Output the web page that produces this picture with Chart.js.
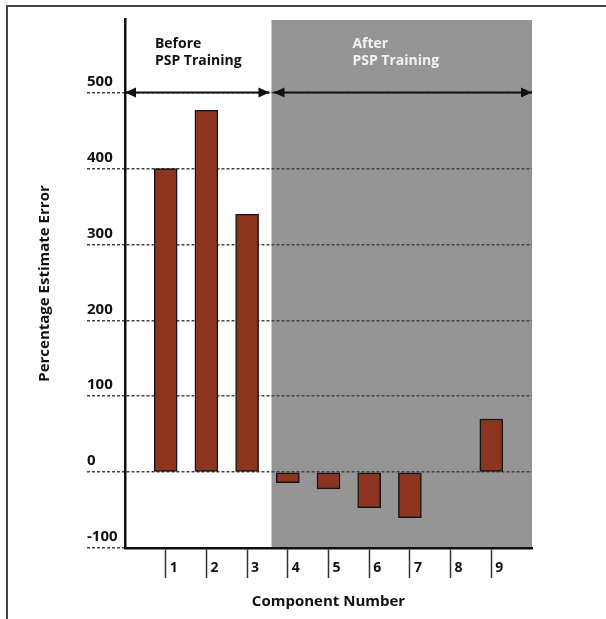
<!DOCTYPE html>
<html>
<head>
<meta charset="utf-8">
<script src="https://cdn.jsdelivr.net/npm/chart.js@4.4.1/dist/chart.umd.min.js"></script>
<style>
    html, body { margin: 0; padding: 0; background: #fff; }
    #wrap { position: relative; width: 606px; height: 619px; }
</style>
</head>
<body>
<div id="wrap"><canvas id="myChart"></canvas></div>
<script>
// datos
const componentes = [1, 2, 3, 4, 5, 6, 7, 8, 9];
const errorPorcentual = [400, 477, 340, -14, -22, -47, -60, 0, 70];
const ticksY = [-100, 0, 100, 200, 300, 400, 500];
const etiquetasFase = [["Before", "PSP Training"], ["After", "PSP Training"]];
const inicioFase = [0, 3.6];
const finFase = [3.6, 10];
const nivelFlecha = 500;

const fuente = "'Open Sans', 'DejaVu Sans', sans-serif";
const colorGris = "#959595";

function flecha(ctx, x, y, dir) {
    ctx.beginPath();
    ctx.moveTo(x, y);
    ctx.lineTo(x - dir * 11, y - 5);
    ctx.lineTo(x - dir * 11, y + 5);
    ctx.closePath();
    ctx.fill();
}

// fondo gris, marco, flechas y textos de fase
const fasesPlugin = {
    id: "fases",
    beforeDraw(chart) {
        const { ctx, chartArea, scales } = chart;
        ctx.save();
        ctx.fillStyle = colorGris;
        const x0 = scales.x.getPixelForValue(inicioFase[1]);
        const x1 = scales.x.getPixelForValue(finFase[1]);
        ctx.fillRect(x0, chartArea.top + 1, x1 - x0, chartArea.bottom - chartArea.top - 1);
        // marco
        ctx.strokeStyle = "#444";
        ctx.lineWidth = 2;
        ctx.beginPath();
        ctx.moveTo(7, chart.height);
        ctx.lineTo(7, 6);
        ctx.lineTo(chart.width, 6);
        ctx.stroke();
        ctx.restore();
    },
    afterDraw(chart) {
        const { ctx, scales } = chart;
        const y = scales.y.getPixelForValue(nivelFlecha);
        ctx.save();
        ctx.strokeStyle = "#111";
        ctx.fillStyle = "#111";
        ctx.lineWidth = 2;
        for (let i = 0; i < etiquetasFase.length; i++) {
            const xa = scales.x.getPixelForValue(inicioFase[i]);
            const xb = scales.x.getPixelForValue(finFase[i]);
            const a = i === 0 ? xa : xa + 2;
            const b = i === 0 ? xb - 2 : xb;
            ctx.beginPath();
            ctx.moveTo(a, y);
            ctx.lineTo(b, y);
            ctx.stroke();
            flecha(ctx, a, y, -1);
            flecha(ctx, b, y, 1);

            ctx.font = "bold 14px " + fuente;
            ctx.textBaseline = "top";
            ctx.textAlign = "left";
            ctx.fillStyle = i === 0 ? "#111" : "#f2f2f2";
            const lineas = etiquetasFase[i];
            const ancho = Math.max(...lineas.map(l => ctx.measureText(l).width));
            const xt = (xa + xb) / 2 - ancho / 2 - (i === 0 ? 0 : 6);
            lineas.forEach((l, k) => ctx.fillText(l, xt, chart.chartArea.top + 18 + k * 17));
            ctx.fillStyle = "#111";
        }
        ctx.restore();
    }
};

const ctx = document.getElementById("myChart").getContext("2d");

new Chart(ctx, {
    type: "bar",
    data: {
        datasets: [{
            data: componentes.map((c, i) => ({ x: c, y: errorPorcentual[i] })),
            backgroundColor: "#8b3520",
            borderColor: "#151515",
            borderWidth: 1.5,
            borderSkipped: false,
            barThickness: 23
        }]
    },
    options: {
        responsive: true,
        maintainAspectRatio: false,
        animation: false,
        layout: { padding: { left: 87, right: 74, top: 19, bottom: 0 } },
        plugins: {
            legend: { display: false },
            tooltip: { enabled: false }
        },
        scales: {
            x: {
                type: "linear",
                min: 0,
                max: 10,
                offset: false,
                afterBuildTicks: s => { s.ticks = componentes.map(v => ({ value: v })); },
                afterFit: s => { s.height = 71; },
                grid: {
                    offset: false,
                    drawOnChartArea: false,
                    drawTicks: true,
                    tickLength: 30,
                    tickColor: "#333",
                    tickWidth: 1.5
                },
                border: { display: true, color: "#111", width: 2.5 },
                ticks: {
                    color: "#111",
                    font: { family: fuente, size: 14, weight: "bold" },
                    labelOffset: 8,
                    padding: -18,
                    maxRotation: 0
                },
                title: {
                    display: true,
                    text: "Component Number",
                    color: "#111",
                    font: { family: fuente, size: 15, weight: "bold" },
                    padding: { top: 0, bottom: 8 }
                }
            },
            y: {
                min: -100,
                max: 597,
                afterBuildTicks: s => { s.ticks = ticksY.map(v => ({ value: v })); },
                afterFit: s => { s.width = 38; },
                grid: {
                    color: "#444",
                    lineWidth: 1.5,
                    tickLength: 38,
                    tickColor: "#444",
                    tickWidth: 1.5,
                    tickBorderDash: [3, 2]
                },
                border: { display: true, color: "#111", width: 2.5, dash: [3, 2] },
                ticks: {
                    color: "#111",
                    font: { family: fuente, size: 15, weight: "bold" },
                    crossAlign: "far",
                    labelOffset: -11
                },
                title: {
                    display: true,
                    text: "Percentage Estimate Error",
                    color: "#111",
                    font: { family: fuente, size: 15, weight: "bold" },
                    padding: { top: -51, bottom: 0 }
                }
            }
        }
    },
    plugins: [fasesPlugin]
});
</script>
</body>
</html>
